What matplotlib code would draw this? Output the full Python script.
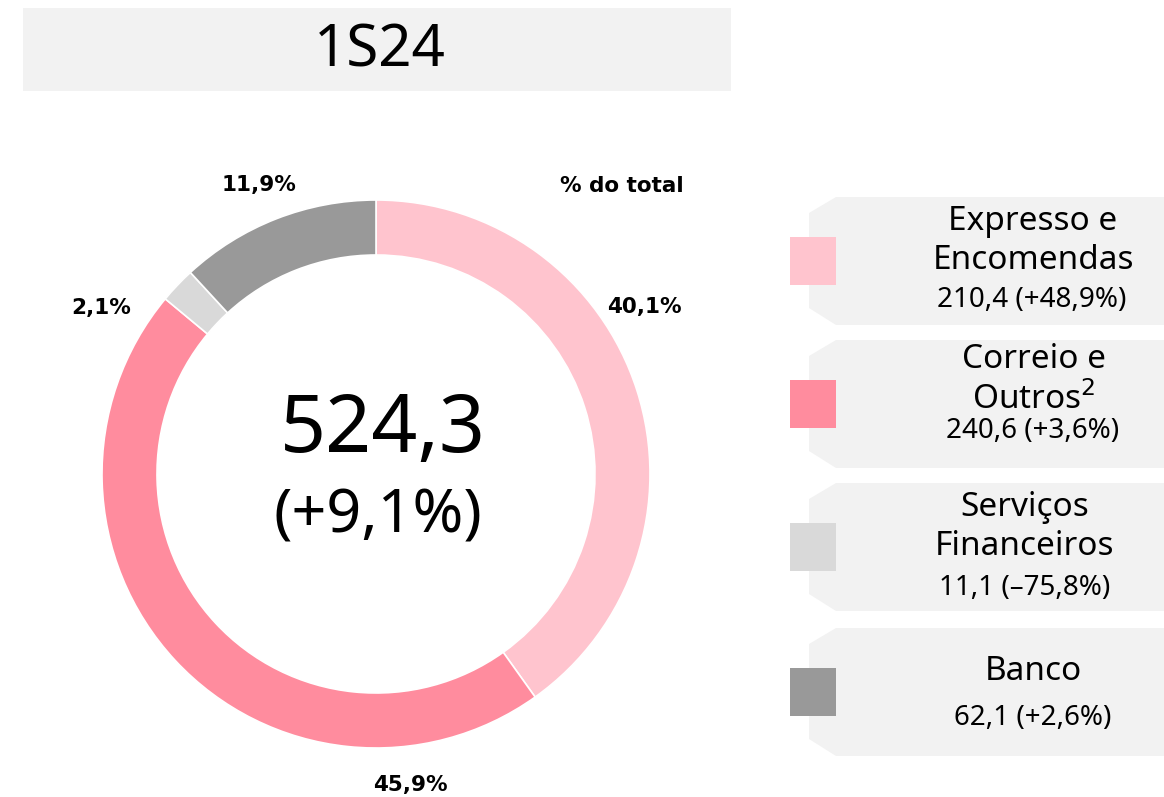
import matplotlib
matplotlib.use("Agg")
import matplotlib.pyplot as plt
from matplotlib.patches import Rectangle, Polygon

plt.rcParams['font.family'] = ['Noto Sans', 'DejaVu Sans']

# Data
period = "1S24"
categories = ["Expresso e\nEncomendas", "Correio e\nOutros$^{2}$", "Serviços\nFinanceiros", "Banco"]
values = [210.4, 240.6, 11.1, 62.1]
value_labels = ["210,4 (+48,9%)", "240,6 (+3,6%)", "11,1 (–75,8%)", "62,1 (+2,6%)"]
share_labels = ["40,1%", "45,9%", "2,1%", "11,9%"]
total_label = "524,3"
total_change = "(+9,1%)"
colors = ["#FFC4CE", "#FF8C9E", "#D9D9D9", "#999999"]

W, H = 1164, 797
fig = plt.figure(figsize=(W / 100, H / 100), dpi=100)
ax = fig.add_axes([0, 0, 1, 1])

def Y(y):
    return H - y

# Title box
ax.add_patch(Rectangle((23, Y(91)), 708, 83, facecolor="#F2F2F2", edgecolor="none"))
ax.text(380, Y(51), period, fontsize=42, ha="center", va="center", color="black")

# Donut
cx, cy, R, w = 376, 474, 274, 55
ax.pie(values, radius=R, center=(cx, Y(cy)), startangle=90, counterclock=False,
       colors=colors, wedgeprops=dict(width=w, edgecolor="white", linewidth=1.2))

ax.text(383, Y(431), total_label, fontsize=58, ha="center", va="center", color="black")
ax.text(378, Y(517), total_change, fontsize=44, ha="center", va="center", color="black")

# Share labels
bold_font = dict(family=["DejaVu Sans"], fontweight="bold", fontsize=15.5)
share_pos = [(644, 307), (410, 785), (101, 308), (259, 185)]
for (x, y), s in zip(share_pos, share_labels):
    ax.text(x, Y(y), s, ha="center", va="center", color="black", **bold_font)
ax.text(622, Y(186), "% do total", ha="center", va="center", color="black", **bold_font)

# Legend tags
box_tops = [197, 340, 483, 628]
box_h = 128
for i, top in enumerate(box_tops):
    bot = top + box_h
    poly = [(836, Y(top)), (W, Y(top)), (W, Y(bot)), (836, Y(bot)),
            (809, Y(bot - 17)), (809, Y(top + 16))]
    ax.add_patch(Polygon(poly, closed=True, facecolor="#F2F2F2", edgecolor="none"))
    mid = top + box_h / 2
    ax.add_patch(Rectangle((790, Y(mid + 24)), 46, 48, facecolor=colors[i], edgecolor="none"))

name_pos = [(1033, 241), (1034, 380), (1025, 527), (1033, 672)]
val_pos = [(1032, 300), (1033, 431), (1025, 588), (1033, 718)]
for i in range(4):
    ax.text(name_pos[i][0], Y(name_pos[i][1]), categories[i], fontsize=24, ha="center",
            va="center", color="black", linespacing=1.22)
    ax.text(val_pos[i][0], Y(val_pos[i][1]), value_labels[i], fontsize=20, ha="center",
            va="center", color="black")

ax.set_xlim(0, W)
ax.set_ylim(0, H)
ax.set_aspect("auto")
ax.axis("off")
fig.savefig("out.png", dpi=100)
